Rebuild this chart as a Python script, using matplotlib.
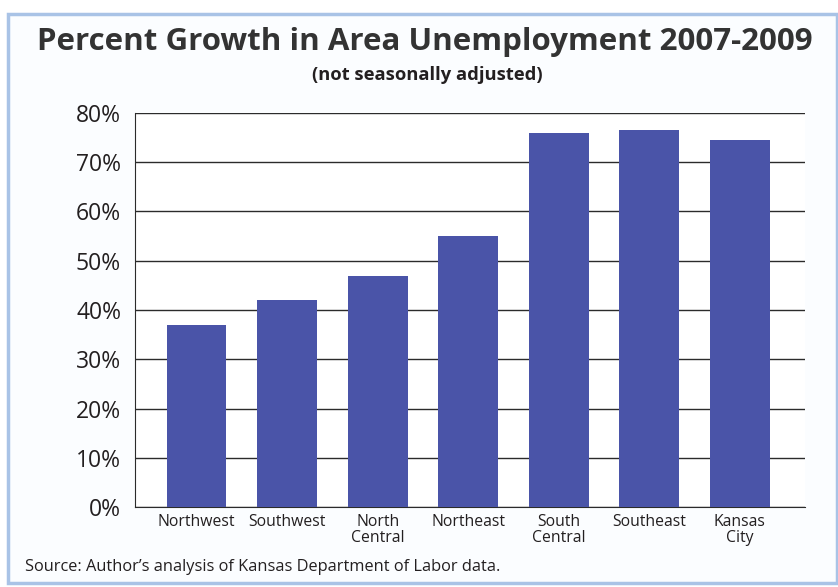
import numpy as np
import matplotlib.pyplot as plt
from matplotlib.patches import Rectangle

regions = ['Northwest', 'Southwest', 'North\nCentral', 'Northeast',
           'South\nCentral', 'Southeast', 'Kansas\nCity']
growth = [37, 42, 47, 55, 76, 76.5, 74.5]  # percent
yticks = [0, 10, 20, 30, 40, 50, 60, 70, 80]

plt.rcParams['font.family'] = ['Open Sans', 'DejaVu Sans']

fig = plt.figure(figsize=(8.38, 5.87), dpi=100)
fig.patch.set_facecolor('white')

# light blue frame round the panel
frame = Rectangle((0.009, 0.006), 0.99, 0.97, transform=fig.transFigure,
                  fill=True, facecolor='#fbfdff', edgecolor='#a9c3e6',
                  linewidth=2.5, zorder=-5)
fig.patches.append(frame)

ax = fig.add_axes([135 / 838, 1 - 507 / 587, 670 / 838, 394 / 587])
ax.set_zorder(2)
ax.set_facecolor('white')

x = np.arange(len(regions))
ax.bar(x, growth, width=0.66, color='#4a54a8', zorder=3)

ax.set_xlim(-0.68, 6.72)
ax.set_ylim(0, 80)
ax.set_yticks(yticks)
ax.set_yticklabels(['{}%'.format(v) for v in yticks], fontsize=16.5, color='#231f20')
ax.set_xticks(x)
ax.set_xticklabels(regions, fontsize=11.3, color='#231f20', linespacing=1.0)
ax.tick_params(axis='both', length=0)
ax.tick_params(axis='y', pad=10)
ax.tick_params(axis='x', pad=5)

ax.grid(axis='y', color='#2b2b2b', linewidth=1.0, zorder=1)
for s in ['top', 'right']:
    ax.spines[s].set_visible(False)
ax.spines['left'].set_color('#2b2b2b')
ax.spines['bottom'].set_color('#2b2b2b')

fig.text(425 / 838, 1 - 42 / 587, 'Percent Growth in Area Unemployment 2007-2009',
         ha='center', va='center', fontsize=22.5, fontweight='bold', color='#333333')
fig.text(427 / 838, 1 - 75 / 587, '(not seasonally adjusted)',
         ha='center', va='center', fontsize=13.2, fontweight='bold', color='#231f20')
fig.text(25 / 838, 1 - 567 / 587,
         'Source: Author\u2019s analysis of Kansas Department of Labor data.',
         ha='left', va='center', fontsize=11.8, color='#231f20')

plt.savefig('out.png', dpi=100)
